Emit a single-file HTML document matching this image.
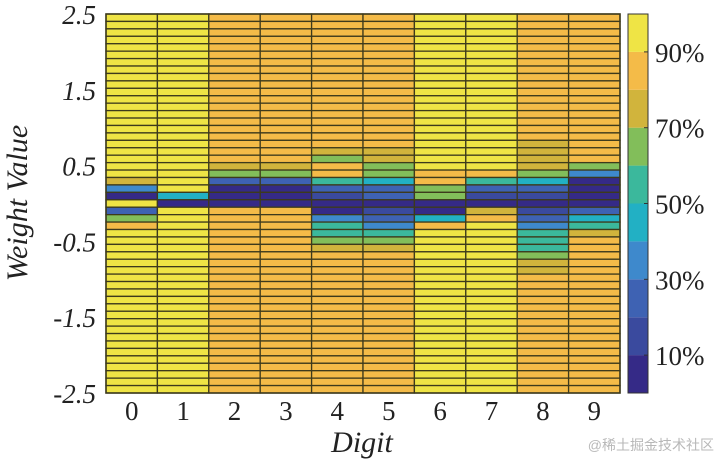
<!DOCTYPE html>
<html><head><meta charset="utf-8">
<style>
html,body{margin:0;padding:0;background:#fff;}
svg{display:block;}
text{font-family:"Liberation Serif",serif;fill:#222;}
</style></head>
<body>
<svg id="chart" width="720" height="466" viewBox="0 0 720 466" xmlns="http://www.w3.org/2000/svg">
<g id="cells"></g>
<g id="cbar"></g>
<g id="yticks"></g>
<g id="xticks"></g>
<text x="362" y="452" text-anchor="middle" font-size="30" font-style="italic">Digit</text>
<text transform="translate(27,203) rotate(-90)" text-anchor="middle" font-size="30" font-style="italic">Weight Value</text>
<text x="714" y="450" text-anchor="end" font-size="14" style="font-family:'Liberation Sans','Noto Sans CJK SC',sans-serif;fill:#b8b8b8">@稀土掘金技术社区</text>
</svg>
<script>
const digits = ["0","1","2","3","4","5","6","7","8","9"];
const yTickValues = [2.5, 1.5, 0.5, -0.5, -1.5, -2.5];
const yTickLabels = ["2.5","1.5","0.5","-0.5","-1.5","-2.5"];
const cbarTickValues = [90, 70, 50, 30, 10];
const cbarTickLabels = ["90%","70%","50%","30%","10%"];
const palette = ["#352a87","#3a4a9e","#3e62b3","#3e89cc","#22b0c4","#3bb89c","#82be5a","#d1b43c","#f4bb48","#efe445"];
// one string per digit column; each char = colour bin (0-9) of a row, top (2.5) to bottom (-2.5)
const columnBins = [
  "999999999999999" + "99999997309268999999" + "9999999999999999",
  "999999999999999" + "99999999940999999999" + "9999999999999999",
  "888888888888888" + "88888762000888888888" + "8888888888888888",
  "888888888888888" + "88888762000888888888" + "8888888888888888",
  "888888888888888" + "88876885210035567888" + "8888888888888888",
  "888888888888888" + "88877664220123567888" + "8888888888888888",
  "999999999999999" + "99999988660048999999" + "9999999999999999",
  "999999999999999" + "99999985210789999999" + "9999999999999999",
  "888888888888888" + "88777764210123555677" + "8888888888888888",
  "888888888888888" + "88888630000245788888" + "8888888888888888"
];

const NS = "http://www.w3.org/2000/svg";
const PX0 = 106, PX1 = 620, PY0 = 14, PY1 = 393;
const nCols = digits.length, nRows = columnBins[0].length;
const cw = (PX1 - PX0) / nCols, rh = (PY1 - PY0) / nRows;
function xOf(i){ return PX0 + i * cw; }
function yOfRow(r){ return PY0 + r * rh; }
function yOfVal(v){ return PY0 + (2.5 - v) / 5 * (PY1 - PY0); }
function cbY(p){ return PY0 + (100 - p) / 100 * (PY1 - PY0); }
function mk(tag, attrs, parent){ const e = document.createElementNS(NS, tag); for (const k in attrs) e.setAttribute(k, attrs[k]); parent.appendChild(e); return e; }

const cells = document.getElementById('cells');
for (let c = 0; c < nCols; c++) {
  for (let r = 0; r < nRows; r++) {
    const bin = parseInt(columnBins[c][r], 10);
    const el = mk('rect', {x: xOf(c), y: yOfRow(r), width: cw, height: rh, fill: palette[bin], stroke: '#3d3a1c', 'stroke-width': 1.3}, cells);
    
    
  }
}
const frame = mk('rect', {x: PX0, y: PY0, width: PX1 - PX0, height: PY1 - PY0, fill: 'none', stroke: '#3d3a1c', 'stroke-width': 1.5}, cells);



const yt = document.getElementById('yticks');
yTickValues.forEach((v, i) => {
  const t = mk('text', {x: 96, y: yOfVal(v) + 10, 'text-anchor': 'end', 'font-size': 27, 'font-style': 'italic'}, yt);
  t.textContent = yTickLabels[i];
  
  
});
const xt = document.getElementById('xticks');
digits.forEach((d, i) => {
  const t = mk('text', {x: xOf(i) + cw / 2, y: 420, 'text-anchor': 'middle', 'font-size': 27}, xt);
  t.textContent = d;
  
  
});

const cb = document.getElementById('cbar');
for (let b = 0; b < 10; b++) {
  const el = mk('rect', {x: 628, y: cbY((b + 1) * 10), width: 20, height: cbY(b * 10) - cbY((b + 1) * 10), fill: palette[b]}, cb);
  
  
}
const cbf = mk('rect', {x: 628, y: PY0, width: 20, height: PY1 - PY0, fill: 'none', stroke: '#333', 'stroke-width': 1}, cb);


cbarTickValues.forEach((p, i) => {
  const tk = mk('line', {x1: 644, x2: 648, y1: cbY(p), y2: cbY(p), stroke: '#333', 'stroke-width': 1}, cb);
  
  
  const t = mk('text', {x: 655, y: cbY(p) + 10, 'font-size': 27}, cb);
  t.textContent = cbarTickLabels[i];
  
  
});
</script>
</body></html>
